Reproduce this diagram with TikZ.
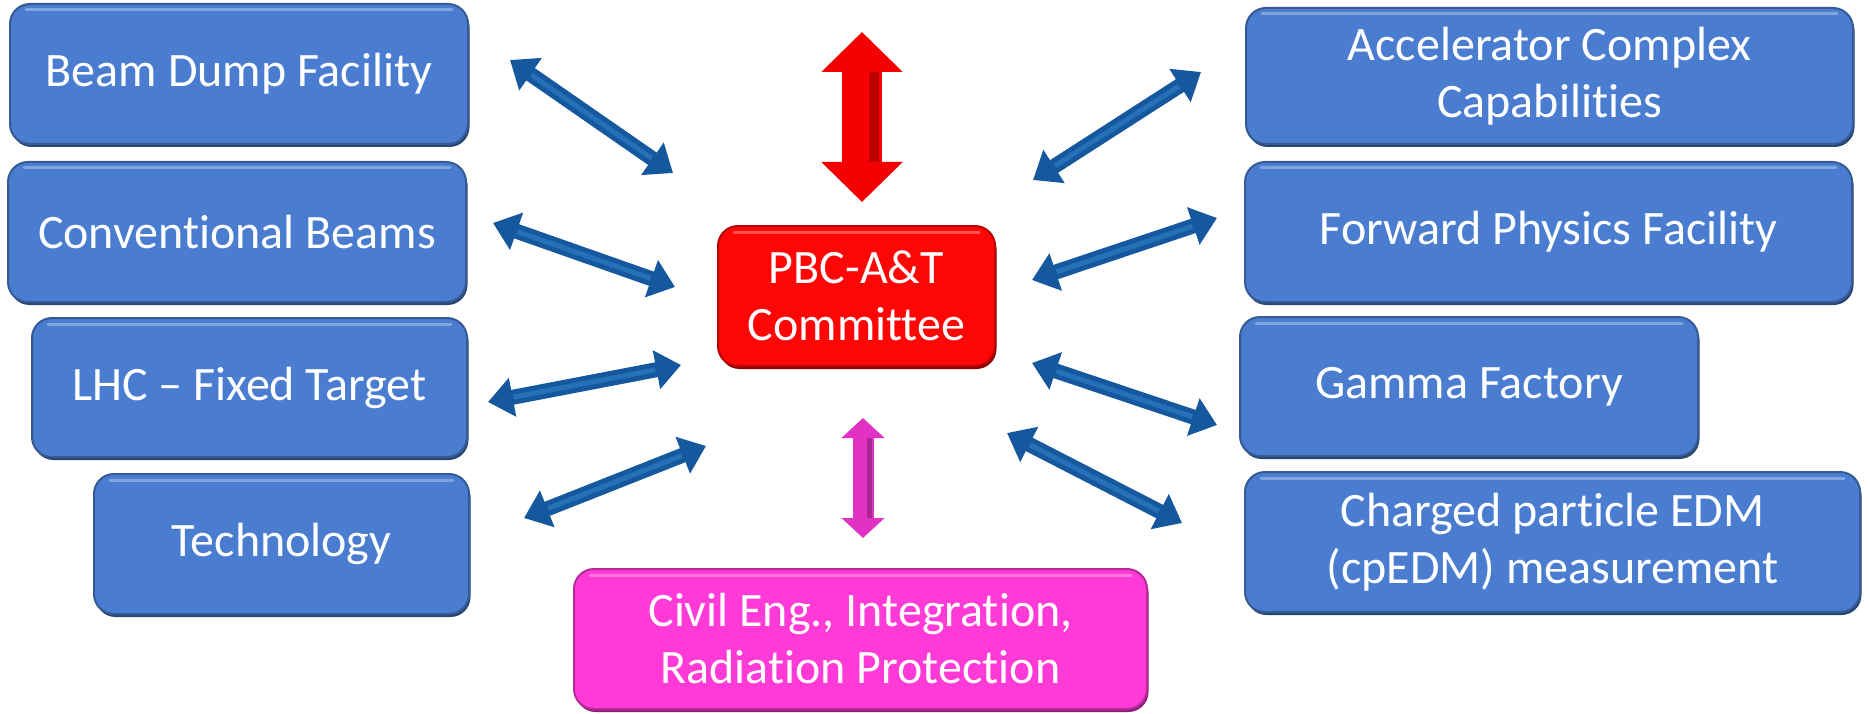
\documentclass[tikz,border=0pt]{standalone}
\usepackage{fontspec}
\setmainfont{Carlito}[Ligatures={TeX,NoCommon}]
\usetikzlibrary{arrows.meta}

\definecolor{boxblue}{RGB}{74,125,208}
\definecolor{boxred}{RGB}{255,6,6}
\definecolor{boxpink}{RGB}{255,58,214}
\definecolor{arrowblue}{RGB}{22,88,158}
\definecolor{arrowlight}{RGB}{38,112,186}
\definecolor{arrowred}{RGB}{245,0,0}
\definecolor{arrowpink}{RGB}{225,50,195}

\tikzset{
  topic/.style={rounded corners=20pt, inner sep=0pt, fill=#1, draw=#1!72!black,
    line width=2pt, text=white, align=center, font=\fontsize{48}{57}\selectfont,
    preaction={fill=#1!55!black, transform canvas={xshift=1.5pt,yshift=-3pt}},
    path picture={\draw[line width=3pt, white!30!#1, line cap=round]
      ([xshift=16pt,yshift=-6pt]path picture bounding box.north west) --
      ([xshift=-16pt,yshift=-6pt]path picture bounding box.north east);}},
  link/.style={line width=15pt, draw=arrowblue,
    {Triangle[length=25pt,width=38pt]}-{Triangle[length=25pt,width=38pt]}},
  linkshine/.style={line width=5pt, draw=arrowlight, shorten <=26pt, shorten >=26pt},
}

\begin{document}
\begin{tikzpicture}[x=1pt, y=-1pt]
  \useasboundingbox (0,0) rectangle (1870,714);

  % left column
  \node[topic=boxblue, minimum width=458pt, minimum height=140pt] (bdf) at (239,74) {Beam Dump Facility};
  \node[topic=boxblue, minimum width=458pt, minimum height=140pt] (cb) at (237,232) {Conventional Beams};
  \node[topic=boxblue, minimum width=435pt, minimum height=139pt] (lhc) at (249.5,387.5) {LHC -- Fixed Target};
  \node[topic=boxblue, minimum width=375pt, minimum height=140pt] (tech) at (281.5,544) {Technology};

  % centre
  \node[topic=boxred, minimum width=277pt, minimum height=140pt] (pbc) at (856.5,296) {PBC-A\&T\\Committee};
  \node[topic=boxpink, minimum width=573pt, minimum height=140pt] (civil) at (860.5,639) {Civil Eng., Integration,\\Radiation Protection};

  % right column
  \node[topic=boxblue, minimum width=607pt, minimum height=136pt] (acc) at (1549.5,76) {Accelerator Complex\\Capabilities};
  \node[topic=boxblue, minimum width=607pt, minimum height=140pt] (fpf) at (1548.5,232) {Forward Physics Facility};
  \node[topic=boxblue, minimum width=458pt, minimum height=139pt] (gf) at (1469,386.5) {Gamma Factory};
  \node[topic=boxblue, minimum width=615pt, minimum height=140pt] (edm) at (1552.5,542) {Charged particle EDM\\(cpEDM) measurement};

  % arrow ends
  \coordinate (bdf-a) at (510,60);   \coordinate (bdf-b) at (673,173);
  \coordinate (cb-a) at (493,223);   \coordinate (cb-b) at (675,287);
  \coordinate (lhc-a) at (488,402);  \coordinate (lhc-b) at (681,365);
  \coordinate (tech-a) at (524,518); \coordinate (tech-b) at (706,446);
  \coordinate (acc-a) at (1033,180); \coordinate (acc-b) at (1201,72);
  \coordinate (fpf-a) at (1032,280); \coordinate (fpf-b) at (1217,218);
  \coordinate (gf-a) at (1032,363);  \coordinate (gf-b) at (1217,425);
  \coordinate (edm-a) at (1007,433); \coordinate (edm-b) at (1182,523);
  \coordinate (top-a) at (862,32);   \coordinate (top-b) at (862,202);
  \coordinate (civ-a) at (863,418);  \coordinate (civ-b) at (863,538);

  \draw[link] (bdf-a) -- (bdf-b);   \draw[linkshine] (bdf-a) -- (bdf-b);
  \draw[link] (cb-a) -- (cb-b);     \draw[linkshine] (cb-a) -- (cb-b);
  \draw[link] (lhc-a) -- (lhc-b);   \draw[linkshine] (lhc-a) -- (lhc-b);
  \draw[link] (tech-a) -- (tech-b); \draw[linkshine] (tech-a) -- (tech-b);
  \draw[link] (acc-a) -- (acc-b);   \draw[linkshine] (acc-a) -- (acc-b);
  \draw[link] (fpf-a) -- (fpf-b);   \draw[linkshine] (fpf-a) -- (fpf-b);
  \draw[link] (gf-a) -- (gf-b);     \draw[linkshine] (gf-a) -- (gf-b);
  \draw[link] (edm-a) -- (edm-b);   \draw[linkshine] (edm-a) -- (edm-b);

  % vertical arrows
  \draw[line width=40pt, draw=arrowred,
    {Triangle[length=40pt,width=79pt]}-{Triangle[length=40pt,width=79pt]}] (top-a) -- (top-b);
  \draw[line width=10pt, draw=arrowred!78!black, shorten <=40pt, shorten >=40pt]
    ([xshift=12pt]top-a) -- ([xshift=12pt]top-b);
  \draw[line width=21pt, draw=arrowpink,
    {Triangle[length=20pt,width=42pt]}-{Triangle[length=20pt,width=42pt]}] (civ-a) -- (civ-b);
  \draw[line width=5pt, draw=arrowpink!75!black, shorten <=20pt, shorten >=20pt]
    ([xshift=6pt]civ-a) -- ([xshift=6pt]civ-b);
\end{tikzpicture}
\end{document}
